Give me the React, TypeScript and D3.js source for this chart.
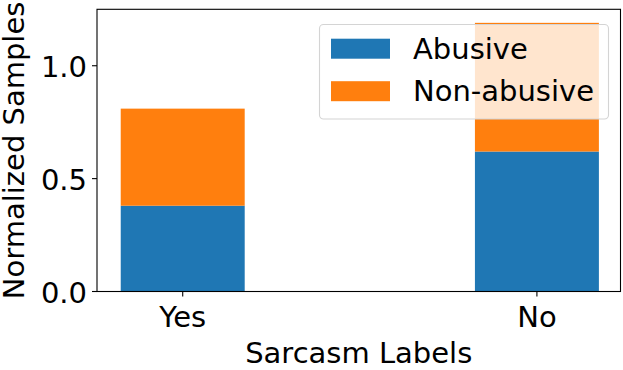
import React from "react";
import * as d3 from "d3";

const categories = ["Yes", "No"];
const abusive = [0.38, 0.62];
const nonAbusive = [0.43, 0.57];
const yTicks = [0.0, 0.5, 1.0];
const seriesNames = ["Abusive", "Non-abusive"];
const colors = ["#1f77b4", "#ff7f0e"];

const W = 623, H = 370;
const left = 97, right = 620.5, top = 9.3, bottom = 291.5;
const FONT = "DejaVu Sans, sans-serif";
const FS = 29;

export default function App() {
  const x = d3.scaleLinear().domain([-0.242, 1.236]).range([left, right]);
  const y = d3.scaleLinear().domain([0, 1.25]).range([bottom, top]);
  const barW = 0.35;
  const stack = d3.stack<any>().keys(["a", "n"])(
    categories.map((c, i) => ({ c, i, a: abusive[i], n: nonAbusive[i] }))
  );

  return (
    <svg width={W} height={H} style={{ position: "absolute", left: 0, top: 0 }} fontFamily={FONT}>
      <rect width={W} height={H} fill="#fff" />
      {stack.map((layer, li) =>
        layer.map((d, i) => (
          <rect
            key={`${li}-${i}`}
            x={x(i - barW / 2)}
            width={x(i + barW / 2) - x(i - barW / 2)}
            y={y(d[1])}
            height={y(d[0]) - y(d[1])}
            fill={colors[li]}
          />
        ))
      )}
      {/* spines */}
      <rect x={left} y={top} width={right - left} height={bottom - top} fill="none" stroke="#000" strokeWidth={1.1} />
      {/* y ticks */}
      {yTicks.map((t) => (
        <g key={t}>
          <line x1={left - 5} x2={left} y1={y(t)} y2={y(t)} stroke="#000" strokeWidth={1.1} />
          <text x={left - 10} y={y(t) + 11.5} textAnchor="end" fontSize={FS}>
            {d3.format(".1f")(t)}
          </text>
        </g>
      ))}
      {/* x ticks */}
      {categories.map((c, i) => (
        <g key={c}>
          <line x1={x(i)} x2={x(i)} y1={bottom} y2={bottom + 5} stroke="#000" strokeWidth={1.1} />
          <text x={x(i)} y={326.5} textAnchor="middle" fontSize={FS}>
            {c}
          </text>
        </g>
      ))}
      <text x={(left + right) / 2} y={363} textAnchor="middle" fontSize={FS}>
        Sarcasm Labels
      </text>
      <text
        transform={`translate(${24},${(top + bottom) / 2}) rotate(-90)`}
        textAnchor="middle"
        fontSize={FS}
      >
        Normalized Samples
      </text>
      {/* legend */}
      <g>
        <rect x={319.5} y={24.5} width={289} height={94.5} rx={4} fill="#fff" fillOpacity={0.8} stroke="#d4d4d4" strokeWidth={1.1} />
        {seriesNames.map((s, i) => (
          <g key={s}>
            <rect x={331} y={38.7 + i * 42.5} width={59} height={20} fill={colors[i]} />
            <text x={413} y={58.5 + i * 42.5} fontSize={FS}>
              {s}
            </text>
          </g>
        ))}
      </g>
    </svg>
  );
}
